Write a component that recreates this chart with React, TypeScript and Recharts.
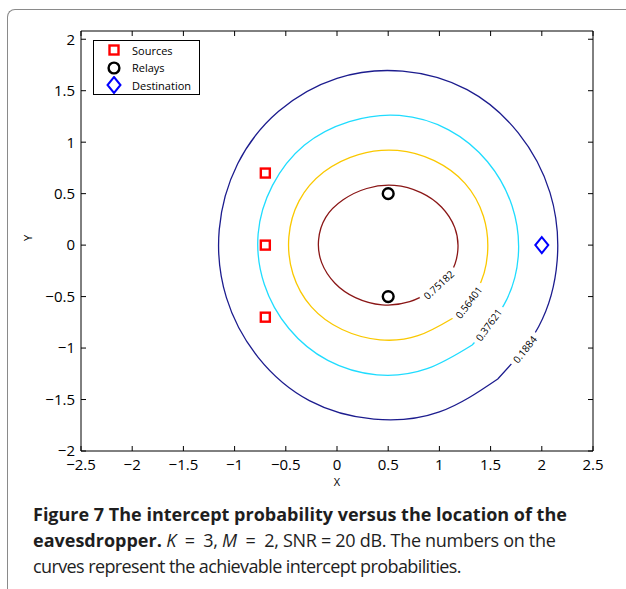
import React from 'react'
import {
  ComposedChart,
  Line,
  Scatter,
  XAxis,
  YAxis,
  ReferenceDot,
  Legend,
} from 'recharts'

// axis ticks
const X_TICKS = [-2.5, -2, -1.5, -1, -0.5, 0, 0.5, 1, 1.5, 2, 2.5]
const Y_TICKS = [-2, -1.5, -1, -0.5, 0, 0.5, 1, 1.5, 2]

// node locations
const SOURCES = [
  { x: -0.7, y: 0.7 },
  { x: -0.7, y: 0 },
  { x: -0.7, y: -0.7 },
]
const RELAYS = [
  { x: 0.5, y: 0.5 },
  { x: 0.5, y: -0.5 },
]
const DESTINATION = [{ x: 2, y: 0 }]

// contour levels (intercept probability)
const LEVELS = ['0.1884', '0.37621', '0.56401', '0.75182']

// contour points, starting at the label
const C_018 = [
  { x: 1.57, y: -1.3 }, { x: 1.97, y: -0.79 }, { x: 2.15, y: -0.15 },
  { x: 2.08, y: 0.51 }, { x: 1.77, y: 1.09 }, { x: 1.27, y: 1.51 },
  { x: 0.64, y: 1.69 }, { x: 0.0, y: 1.62 }, { x: -0.57, y: 1.3 },
  { x: -0.97, y: 0.79 }, { x: -1.15, y: 0.15 }, { x: -1.08, y: -0.51 },
  { x: -0.77, y: -1.09 }, { x: -0.27, y: -1.51 }, { x: 0.36, y: -1.69 },
  { x: 1.0, y: -1.62 }, { x: 1.57, y: -1.3 },
]
const C_037 = [
  { x: 1.32, y: -0.97 }, { x: 1.63, y: -0.58 }, { x: 1.77, y: -0.11 },
  { x: 1.71, y: 0.38 }, { x: 1.47, y: 0.81 }, { x: 1.09, y: 1.12 },
  { x: 0.61, y: 1.26 }, { x: 0.12, y: 1.2 }, { x: -0.32, y: 0.97 },
  { x: -0.63, y: 0.58 }, { x: -0.77, y: 0.11 }, { x: -0.71, y: -0.38 },
  { x: -0.47, y: -0.81 }, { x: -0.09, y: -1.12 }, { x: 0.39, y: -1.26 },
  { x: 0.88, y: -1.2 }, { x: 1.32, y: -0.97 },
]
const C_056 = [
  { x: 1.13, y: -0.71 }, { x: 1.37, y: -0.43 }, { x: 1.47, y: -0.08 },
  { x: 1.43, y: 0.28 }, { x: 1.25, y: 0.6 }, { x: 0.95, y: 0.82 },
  { x: 0.59, y: 0.92 }, { x: 0.21, y: 0.88 }, { x: -0.13, y: 0.71 },
  { x: -0.37, y: 0.43 }, { x: -0.47, y: 0.08 }, { x: -0.43, y: -0.28 },
  { x: -0.25, y: -0.6 }, { x: 0.05, y: -0.82 }, { x: 0.42, y: -0.92 },
  { x: 0.79, y: -0.88 }, { x: 1.13, y: -0.71 },
]
const C_075 = [
  { x: 0.94, y: -0.44 }, { x: 1.11, y: -0.27 }, { x: 1.18, y: -0.05 },
  { x: 1.15, y: 0.17 }, { x: 1.02, y: 0.37 }, { x: 0.82, y: 0.51 },
  { x: 0.56, y: 0.58 }, { x: 0.29, y: 0.55 }, { x: 0.06, y: 0.44 },
  { x: -0.11, y: 0.27 }, { x: -0.18, y: 0.05 }, { x: -0.15, y: -0.17 },
  { x: -0.02, y: -0.37 }, { x: 0.18, y: -0.51 }, { x: 0.44, y: -0.58 },
  { x: 0.71, y: -0.55 }, { x: 0.94, y: -0.44 },
]

const CONTOURS = [
  { data: C_018, color: '#1c1c8e', label: { x: 1.836, y: -1.015, angle: -51 } },
  { data: C_037, color: '#1fdcff', label: { x: 1.484, y: -0.777, angle: -54 } },
  { data: C_056, color: '#fac800', label: { x: 1.289, y: -0.558, angle: -53 } },
  { data: C_075, color: '#8a1616', label: { x: 0.996, y: -0.388, angle: -43 } },
]

const FONT = '"Open Sans", sans-serif'
const fmt = (v: number) => (v < 0 ? '\u2212' + Math.abs(v) : String(v))
const tickStyle = { fontSize: 15, fill: '#000', fontFamily: FONT }
const noTick = () => <g />

const SquareMark = ({ cx, cy }: any) => (
  <rect x={cx - 4.5} y={cy - 4.5} width={9} height={9} fill="none" stroke="#ff0000" strokeWidth={2.4} />
)
const CircleMark = ({ cx, cy }: any) => (
  <circle cx={cx} cy={cy} r={5.4} fill="none" stroke="#000" strokeWidth={2.4} />
)
const DiamondMark = ({ cx, cy }: any) => (
  <path
    d={`M${cx},${cy - 8}L${cx + 6.5},${cy}L${cx},${cy + 8}L${cx - 6.5},${cy}Z`}
    fill="none"
    stroke="#0000ff"
    strokeWidth={2}
  />
)
const NoMark = () => <g />

const LEGEND_ITEMS = [
  { name: 'Sources', Mark: SquareMark },
  { name: 'Relays', Mark: CircleMark },
  { name: 'Destination', Mark: DiamondMark },
]

function renderLegend() {
  return (
    <div
      style={{
        width: 105,
        height: 53,
        border: '1px solid #000',
        background: '#fff',
        fontFamily: FONT,
        fontSize: 11,
        position: 'relative',
      }}
    >
      {LEGEND_ITEMS.map((it, i) => (
        <div
          key={it.name}
          style={{ position: 'absolute', left: 0, top: 1 + i * 17.5, height: 16, display: 'flex', alignItems: 'center' }}
        >
          <svg width={30} height={18} style={{ marginLeft: 6 }}>
            <it.Mark cx={14} cy={9} />
          </svg>
          <span style={{ marginLeft: 2 }}>{it.name}</span>
        </div>
      ))}
    </div>
  )
}

function ContourLabel({ cx, cy, text, angle }: any) {
  const w = text.length * 5.6 + 6
  return (
    <g transform={`translate(${cx},${cy}) rotate(${angle})`}>
      <rect x={-w / 2} y={-5} width={w} height={10} fill="#fff" />
      <text x={0} y={0} dy="0.35em" textAnchor="middle" fontSize={10} fontFamily={FONT} fill="#000">
        {text}
      </text>
    </g>
  )
}

export default function App() {
  return (
    <div
      style={{
        position: 'fixed',
        left: 0,
        top: 0,
        width: 626,
        height: 589,
        overflow: 'hidden',
        background: '#fff',
      }}
    >
      <div
        style={{
          position: 'absolute',
          left: 7,
          top: 9,
          width: 700,
          height: 700,
          borderLeft: '1.5px solid #8a8a8a',
          borderTop: '1.5px solid #8a8a8a',
          borderTopLeftRadius: 8,
        }}
      />
      <div style={{ position: 'absolute', left: 0, top: 0 }}>
        <ComposedChart width={626} height={500} margin={{ top: 21, right: 23, bottom: 9, left: 0 }}>
          <XAxis
            xAxisId="b"
            dataKey="x"
            type="number"
            domain={[-2.5, 2.5]}
            ticks={X_TICKS}
            allowDataOverflow
            tickFormatter={fmt}
            tick={tickStyle}
            tickSize={-5}
            tickMargin={13}
            height={40}
            stroke="#000"
            interval={0}
            label={{ value: 'X', position: 'insideBottom', offset: 5, fontSize: 11, fill: '#000', fontFamily: FONT }}
          />
          <XAxis
            xAxisId="t"
            dataKey="x"
            orientation="top"
            type="number"
            domain={[-2.5, 2.5]}
            ticks={X_TICKS}
            allowDataOverflow
            tick={noTick}
            tickSize={-5}
            height={10}
            stroke="#000"
            interval={0}
          />
          <YAxis
            yAxisId="l"
            dataKey="y"
            type="number"
            domain={[-2, 2.08]}
            ticks={Y_TICKS}
            allowDataOverflow
            tickFormatter={fmt}
            tick={tickStyle}
            tickSize={-5}
            tickMargin={11}
            width={81}
            stroke="#000"
            interval={0}
            label={{ value: 'Y', angle: -90, position: 'insideLeft', offset: 28, fontSize: 11, fill: '#000', fontFamily: FONT }}
          />
          <YAxis
            yAxisId="r"
            dataKey="y"
            orientation="right"
            type="number"
            domain={[-2, 2.08]}
            ticks={Y_TICKS}
            allowDataOverflow
            tick={noTick}
            tickSize={-5}
            width={10}
            stroke="#000"
            interval={0}
          />
          {CONTOURS.map((c, i) => (
            <Line
              key={LEVELS[i]}
              xAxisId="b"
              yAxisId="l"
              data={c.data}
              dataKey="y"
              type="natural"
              stroke={c.color}
              strokeWidth={1.3}
              dot={false}
              activeDot={false}
              isAnimationActive={false}
            />
          ))}
          {CONTOURS.map((c, i) => (
            <ReferenceDot
              key={'lbl' + LEVELS[i]}
              xAxisId="b"
              yAxisId="l"
              x={c.label.x}
              y={c.label.y}
              shape={(p: any) => <ContourLabel cx={p.cx} cy={p.cy} text={LEVELS[i]} angle={c.label.angle} />}
            />
          ))}
          {/* binds the mirrored frame axes so they get drawn */}
          <Scatter xAxisId="t" yAxisId="r" data={DESTINATION} dataKey="y" shape={NoMark} isAnimationActive={false} legendType="none" />
          <Scatter xAxisId="b" yAxisId="l" data={SOURCES} dataKey="y" shape={SquareMark} isAnimationActive={false} />
          <Scatter xAxisId="b" yAxisId="l" data={RELAYS} dataKey="y" shape={CircleMark} isAnimationActive={false} />
          <Scatter xAxisId="b" yAxisId="l" data={DESTINATION} dataKey="y" shape={DiamondMark} isAnimationActive={false} />
          <Legend
            layout="vertical"
            align="center"
            verticalAlign="middle"
            wrapperStyle={{ left: 93, top: 40, width: 107 }}
            content={renderLegend}
          />
        </ComposedChart>
      </div>
      <div
        style={{
          position: 'absolute',
          left: 33,
          top: 501,
          fontFamily: FONT,
          fontSize: 18,
          lineHeight: '26px',
          color: '#1e1e1e',
          whiteSpace: 'nowrap',
          letterSpacing: -0.6,
        }}
      >
        <b style={{ letterSpacing: 0 }}>Figure 7 The intercept probability versus the location of the</b>
        <br />
        <b style={{ letterSpacing: 0 }}>eavesdropper.</b>
        <span style={{ letterSpacing: -0.3 }}>
          {' '}<i>K</i>{'\u2002=\u2002'}3, <i>M</i>{'\u2002=\u2002'}2, SNR = 20 dB. The numbers on the
        </span>
        <br />
        curves represent the achievable intercept probabilities.
      </div>
    </div>
  )
}
